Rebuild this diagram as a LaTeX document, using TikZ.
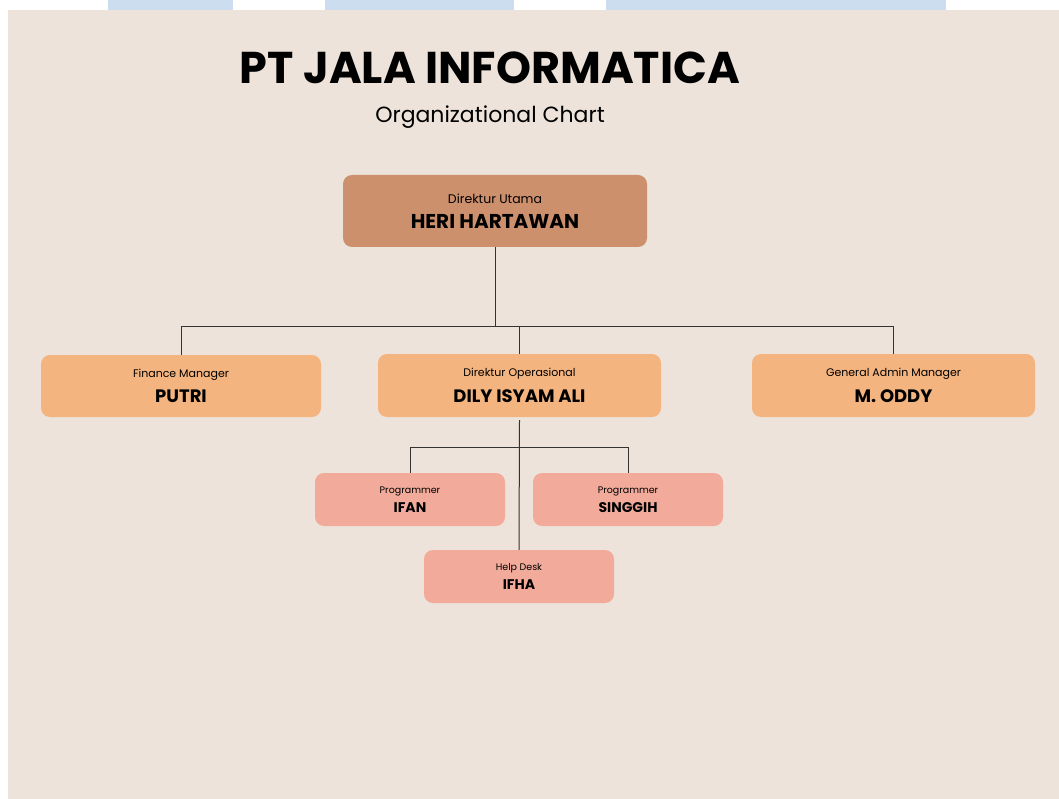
\documentclass[tikz,border=0pt]{standalone}
\usepackage{fontspec}
\setmainfont{Poppins}
\definecolor{bgbeige}{HTML}{EDE3DA}
\definecolor{stripblue}{HTML}{CBDDEE}
\definecolor{topbox}{HTML}{CC906C}
\definecolor{midbox}{HTML}{F4B47F}
\definecolor{lowbox}{HTML}{F2AA9B}
\definecolor{linegray}{HTML}{333333}
% role / name sizes per level
\newcommand{\toprole}{\fontsize{12.5}{14}\selectfont}
\newcommand{\topname}{\fontsize{20}{24}\selectfont\bfseries}
\newcommand{\midrole}{\fontsize{11}{13}\selectfont}
\newcommand{\midname}{\fontsize{18}{22}\selectfont\bfseries}
\newcommand{\lowrole}{\fontsize{9.5}{11}\selectfont}
\newcommand{\lowname}{\fontsize{14}{17}\selectfont\bfseries}
\tikzset{
  orgbox/.style={rectangle,rounded corners=9pt,align=center,inner sep=0pt},
  conn/.style={draw=linegray,line width=1pt}
}
\begin{document}
\begin{tikzpicture}[x=1pt,y=-1pt]
				\useasboundingbox (0,0) rectangle (1059,799);
				\fill[bgbeige] (8,10) rectangle (1059,799);
				\fill[stripblue] (108,0) rectangle (233,10);
				\fill[stripblue] (325,0) rectangle (514,10);
				\fill[stripblue] (606,0) rectangle (946,10);
				
				\node (title) at (490,68) {\fontsize{44.5}{50}\selectfont\bfseries PT JALA INFORMATICA};
				\node (subtitle) at (490,117) {\fontsize{22}{26}\selectfont Organizational Chart};
				\begin{scope}[every node/.style={orgbox}]
					\node[fill=topbox,minimum width=304pt,minimum height=72pt] (dirut) at (495,211) {{\toprole Direktur Utama}\\[10pt]{\topname HERI HARTAWAN}};
					\node[fill=midbox,minimum width=280pt,minimum height=62pt] (finance) at (181,386) {{\midrole Finance Manager}\\[9pt]{\midname PUTRI}};
					\node[fill=midbox,minimum width=283pt,minimum height=63pt] (dirops) at (519.5,385.5) {{\midrole Direktur Operasional}\\[9pt]{\midname DILY ISYAM ALI}};
					\node[fill=midbox,minimum width=283pt,minimum height=63pt] (gam) at (893.5,385.5) {{\midrole General Admin Manager}\\[9pt]{\midname M. ODDY}};
					\node[fill=lowbox,minimum width=190pt,minimum height=53pt] (ifan) at (410,499.5) {{\lowrole Programmer}\\[5pt]{\lowname IFAN}};
					\node[fill=lowbox,minimum width=190pt,minimum height=53pt] (singgih) at (628,499.5) {{\lowrole Programmer}\\[5pt]{\lowname SINGGIH}};
					\node[fill=lowbox,minimum width=190pt,minimum height=53pt] (helpdesk) at (519,576.5) {{\lowrole Help Desk}\\[5pt]{\lowname IFHA}};
				\end{scope}
				
				\coordinate (bus) at (0,326);
				\coordinate (subbus) at (0,447);
				\draw[conn] (dirut.south) -- (dirut.south |- bus);
				\draw[conn] (finance.north) |- (bus -| gam.north) -- (gam.north);
				\draw[conn] (dirops.north) -- (dirops.north |- bus);
				\draw[conn] ([yshift=-3pt]dirops.south) -- (helpdesk.north);
				\draw[conn] (ifan.north) |- (subbus -| singgih.north) -- (singgih.north);
			\end{tikzpicture}
\end{document}
